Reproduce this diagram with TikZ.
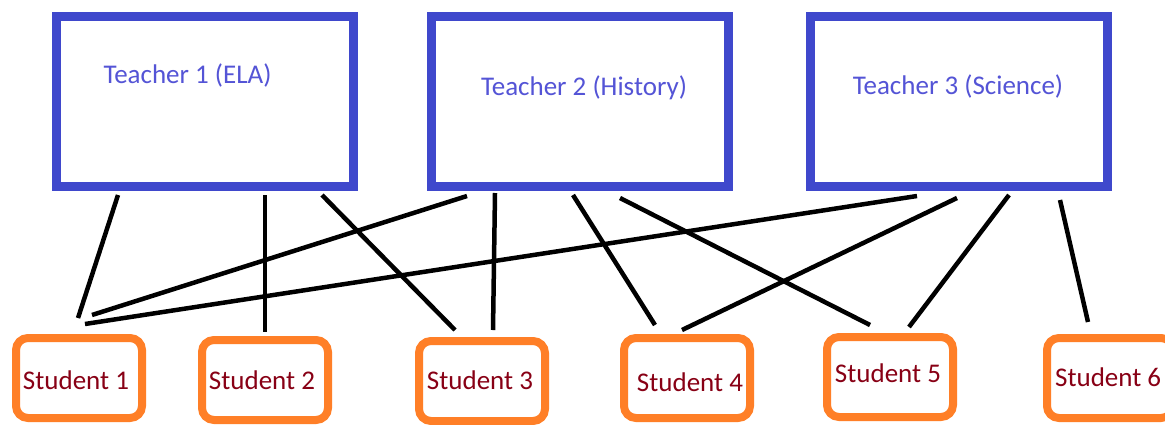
\documentclass[tikz,border=0pt]{standalone}
\usepackage{fontspec}
\setmainfont{Carlito}
\usetikzlibrary{calc}
\definecolor{tblue}{RGB}{63,72,204}
\definecolor{ttext}{RGB}{84,84,214}
\definecolor{sorange}{RGB}{255,127,39}
\definecolor{stext}{RGB}{136,0,21}
\tikzset{
  teacherbox/.style={draw=tblue, line width=9pt, minimum width=297pt, minimum height=170pt, anchor=north west, outer sep=0pt, inner sep=0pt},
  studentbox/.style={draw=sorange, line width=8pt, rounded corners=12pt, minimum width=126pt, minimum height=80pt, anchor=north west, outer sep=0pt, inner sep=0pt},
  teacherlabel/.style={text=ttext, font=\fontsize{27}{31}\selectfont, inner sep=0pt},
  studentlabel/.style={text=stext, font=\fontsize{27}{31}\selectfont, inner sep=0pt},
  link/.style={draw=black, line width=4.5pt}
}
\begin{document}
\begin{tikzpicture}[x=1pt,y=-1pt]
\useasboundingbox[fill=white] (0,0) rectangle (1165,424);
% teachers
\node[teacherbox] (t1) at (56.5,16.5) {};
\node[teacherbox] (t2) at (431.5,16.5) {};
\node[teacherbox] (t3) at (810.5,16.5) {};
\node[teacherlabel] (t1l) at (187.5,75) {Teacher 1 (ELA)};
\node[teacherlabel] (t2l) at (584,88) {Teacher 2 (History)};
\node[teacherlabel] (t3l) at (958,86) {Teacher 3 (Science)};
% students
\node[studentbox] (s1) at (16,338) {};
\node[studentbox] (s2) at (202,340) {};
\node[studentbox] (s3) at (419,341) {};
\node[studentbox] (s4) at (624,338) {};
\node[studentbox] (s5) at (827,337) {};
\node[studentbox] (s6) at (1047,338) {};
\node[studentlabel] (s1l) at (76,380) {Student 1};
\node[studentlabel] (s2l) at (262,380) {Student 2};
\node[studentlabel] (s3l) at (480,380) {Student 3};
\node[studentlabel] (s4l) at (690,382) {Student 4};
\node[studentlabel] (s5l) at (888,373) {Student 5};
\node[studentlabel, anchor=west] (s6l) at (1055,377) {Student 6};
% links
\draw[link] ($(t1.south west)+(61.5,8.5)$) -- ($(s1.north west)+(62,-20)$);
\draw[link] ($(t1.south west)+(208.5,8.5)$) -- ($(s2.north west)+(63,-8)$);
\draw[link] ($(t1.south west)+(265.5,8.5)$) -- ($(s3.north west)+(36,-11)$);
\draw[link] ($(t2.south west)+(35.5,9.5)$) -- ($(s1.north west)+(76,-23)$);
\draw[link] ($(t3.south west)+(106.5,9.5)$) -- ($(s1.north west)+(69,-14)$);
\draw[link] ($(t2.south west)+(63.5,6.5)$) -- ($(s3.north west)+(74,-11)$);
\draw[link] ($(t2.south west)+(141.5,8.5)$) -- ($(s4.north west)+(31,-13)$);
\draw[link] ($(t2.south west)+(188.5,11.5)$) -- ($(s5.north west)+(43,-12)$);
\draw[link] ($(t3.south west)+(146.5,11.5)$) -- ($(s4.north west)+(58,-8)$);
\draw[link] ($(t3.south west)+(198.5,8.5)$) -- ($(s5.north west)+(82,-10)$);
\draw[link] ($(t3.south west)+(249.5,13.5)$) -- ($(s6.north west)+(41,-16)$);
\end{tikzpicture}
\end{document}
